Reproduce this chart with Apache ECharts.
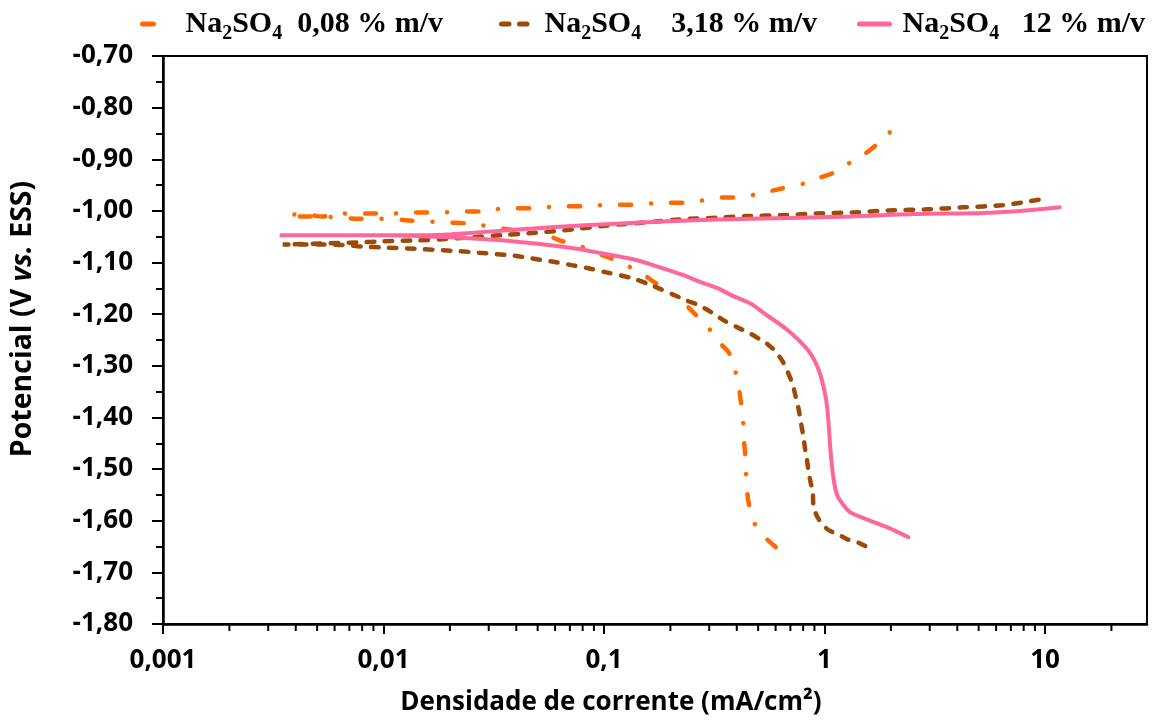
<!DOCTYPE html>
<html>
<head>
<meta charset="utf-8">
<script src="https://cdn.jsdelivr.net/npm/echarts@6/dist/echarts.min.js"></script>
<style>
  html, body { margin: 0; padding: 0; background: #fff; }
  #chart { width: 1156px; height: 722px; }
</style>
</head>
<body>
<div id="chart"></div>
<script>
// legend concentration labels
const concLabels = ["0,08", "3,18", "12"];
const concSpaces = ["  ", "    ", "   "];
const seriesNames = ["Na2SO4 0,08", "Na2SO4 3,18", "Na2SO4 12"];
const seriesColors = ["#ff6a00", "#9c4a08", "#ff6699"];

// [current density mA/cm2, potential V] - cathodic branch then anodic branch
const cath008 = [
  [0.601, -1.651], [0.531, -1.63], [0.478, -1.603], [0.454, -1.568], [0.445, -1.539],
  [0.44, -1.507], [0.436, -1.468], [0.431, -1.443], [0.427, -1.406], [0.418, -1.372],
  [0.409, -1.343], [0.393, -1.308], [0.369, -1.275], [0.332, -1.254], [0.296, -1.225],
  [0.256, -1.198], [0.231, -1.179], [0.197, -1.157], [0.169, -1.138], [0.148, -1.121],
  [0.126, -1.105], [0.105, -1.09], [0.0905, -1.08], [0.0766, -1.067], [0.0629, -1.057],
  [0.0549, -1.047], [0.0374, -1.036], [0.032, -1.032], [0.0265, -1.026], [0.0239, -1.024],
  [0.0188, -1.022], [0.0154, -1.02], [0.0125, -1.018], [0.011, -1.015], [0.009, -1.015],
  [0.00737, -1.015], [0.00637, -1.013], [0.00518, -1.011], [0.00429, -1.011], [0.00367, -1.009]
];
const anod008 = [
  [0.00367, -1.007], [0.00443, -1.007], [0.00528, -1.011], [0.00637, -1.005], [0.00908, -1.005],
  [0.011, -1.005], [0.0132, -1.003], [0.0154, -1.003], [0.0188, -1.003], [0.0227, -1.001],
  [0.0288, -1.001], [0.032, -0.997], [0.039, -0.995], [0.0505, -0.995], [0.0549, -0.993],
  [0.0662, -0.991], [0.085, -0.991], [0.0943, -0.989], [0.116, -0.988], [0.148, -0.988],
  [0.162, -0.986], [0.195, -0.984], [0.229, -0.984], [0.278, -0.98], [0.339, -0.974],
  [0.388, -0.974], [0.5, -0.967], [0.633, -0.957], [0.805, -0.947], [0.96, -0.935],
  [1.1, -0.926], [1.31, -0.906], [1.55, -0.887], [1.74, -0.87], [2.01, -0.845]
];

const cath318 = [
  [1.53, -1.649], [1.38, -1.64], [1.27, -1.636], [1.15, -1.626], [1.033, -1.617],
  [0.941, -1.597], [0.893, -1.574], [0.884, -1.543], [0.865, -1.526], [0.848, -1.507],
  [0.83, -1.478], [0.821, -1.468], [0.805, -1.443], [0.796, -1.429], [0.78, -1.408],
  [0.764, -1.385], [0.74, -1.36], [0.718, -1.337], [0.681, -1.312], [0.647, -1.292],
  [0.601, -1.273], [0.559, -1.26], [0.515, -1.25], [0.454, -1.236], [0.409, -1.227],
  [0.346, -1.211], [0.306, -1.196], [0.267, -1.182], [0.241, -1.175], [0.224, -1.169],
  [0.164, -1.144], [0.133, -1.13], [0.1025, -1.119], [0.085, -1.111], [0.0713, -1.105],
  [0.0579, -1.098], [0.047, -1.092], [0.0394, -1.087], [0.0271, -1.081], [0.022, -1.078],
  [0.015, -1.074], [0.0102, -1.071], [0.00801, -1.069], [0.00651, -1.066], [0.00528, -1.065],
  [0.00429, -1.065], [0.00349, -1.065]
];
const anod318 = [
  [0.00349, -1.065], [0.00528, -1.063], [0.00761, -1.061], [0.00987, -1.059], [0.0139, -1.057],
  [0.0184, -1.055], [0.0252, -1.051], [0.0344, -1.047], [0.047, -1.043], [0.0713, -1.036],
  [0.105, -1.028], [0.157, -1.022], [0.231, -1.016], [0.339, -1.013], [0.44, -1.01],
  [0.667, -1.008], [0.921, -1.005], [1.35, -1.003], [1.97, -0.999], [2.89, -0.997],
  [4.3, -0.993], [6.38, -0.989], [7.78, -0.984], [9.47, -0.978]
];

const cath12 = [
  [2.4, -1.632], [1.93, -1.613], [1.46, -1.593], [1.31, -1.584], [1.21, -1.568],
  [1.14, -1.55], [1.1, -1.52], [1.066, -1.468], [1.04, -1.404], [1.012, -1.36],
  [0.941, -1.308], [0.839, -1.269], [0.681, -1.231], [0.531, -1.198], [0.464, -1.18],
  [0.377, -1.163], [0.329, -1.15], [0.267, -1.136], [0.231, -1.125], [0.164, -1.104],
  [0.137, -1.094], [0.0973, -1.082], [0.069, -1.071], [0.0344, -1.057], [0.0204, -1.051],
  [0.015, -1.049], [0.0102, -1.047], [0.00587, -1.047], [0.00338, -1.047]
];
const anod12 = [
  [0.00338, -1.047], [0.00587, -1.047], [0.0102, -1.047], [0.015, -1.047], [0.0204, -1.045],
  [0.041, -1.036], [0.0816, -1.028], [0.195, -1.02], [0.464, -1.015], [1.31, -1.011],
  [2.53, -1.006], [5.24, -1.004], [7.15, -1.001], [9.47, -0.997], [11.67, -0.993]
];

// minor tick positions on the log axis
const xMinorTicks = [
  0.002, 0.003, 0.004, 0.005, 0.006, 0.007, 0.008, 0.009,
  0.02, 0.03, 0.04, 0.05, 0.06, 0.07, 0.08, 0.09,
  0.2, 0.3, 0.4, 0.5, 0.6, 0.7, 0.8, 0.9,
  2, 3, 4, 5, 6, 7, 8, 9, 20
];

const yMin = -1.8;
const yMax = -0.7;

const chart = echarts.init(document.getElementById("chart"));

const labelFont = {
  fontFamily: "Open Sans",
  fontWeight: "bold",
  fontSize: 26,
  color: "#000",
};
const yNameFont = { ...labelFont, fontSize: 28.5 };

const serif = { fontFamily: "Liberation Serif", fontWeight: "bold", color: "#000", lineHeight: 40 };
const legendRich = {
  n: { ...serif, fontSize: 30 },
  s: { ...serif, fontSize: 20, verticalAlign: "bottom" },
  p: { ...serif, fontSize: 30, padding: [0, 0, 0, 8] },
};

const lineTypes = [
  { type: [11, 20, 0.1, 20], cap: "round", width: 4.5 },
  { type: [7.5, 10.5], cap: "round", width: 4.5 },
  { type: "solid", cap: "round", width: 4 },
];

const legendLeft = [135, 494, 852];
const legends = seriesNames.map((name, i) => ({
  data: [name],
  left: legendLeft[i],
  top: 4,
  itemWidth: 30,
  itemHeight: 14,
  itemStyle: { opacity: 0 },
  lineStyle: { ...lineTypes[i], color: seriesColors[i], width: 5 },
  formatter: () => `{p|Na}{s|2}{n|SO}{s|4}{n|${concSpaces[i]}${concLabels[i]} % m/v}`,
  textStyle: { rich: legendRich },
}));

const seriesData = [
  cath008.concat(anod008),
  cath318.concat(anod318),
  cath12.concat(anod12),
];

chart.setOption({
  animation: false,
  legend: legends,
  grid: {
    left: 161,
    right: 9,
    top: 56,
    bottom: 98,
    show: true,
    borderColor: "#000",
    borderWidth: 2,
  },
  xAxis: {
    type: "log",
    logBase: 10,
    min: 0.001,
    max: 29,
    name: "Densidade de corrente (mA/cm²)",
    nameLocation: "middle",
    nameGap: 66,
    nameTextStyle: { ...labelFont, padding: [0, 88, 0, 0] },
    axisLine: { lineStyle: { color: "#000", width: 2.5 } },
    axisTick: { length: 10, lineStyle: { color: "#000", width: 2 } },
    splitLine: { show: false },
    axisLabel: {
      ...labelFont,
      margin: 24,
      showMaxLabel: false,
      formatter: (v) => {
        const l = Math.log10(v);
        const r = Math.round(l);
        if (Math.abs(l - r) > 1e-6) return "";
        return r < 0 ? Math.pow(10, r).toFixed(-r).replace(".", ",") : String(Math.pow(10, r));
      },
    },
  },
  yAxis: {
    type: "value",
    min: yMin,
    max: yMax,
    interval: 0.1,
    name: "{a|Potencial (V }{i|vs.}{a| ESS)}",
    nameLocation: "middle",
    nameGap: 126,
    nameTextStyle: {
      padding: [0, 0, 0, 42],
      rich: {
        a: yNameFont,
        i: { ...yNameFont, fontStyle: "italic" },
      },
    },
    axisLine: { show: true, lineStyle: { color: "#000", width: 2.5 } },
    axisTick: { show: true, length: 11, lineStyle: { color: "#000", width: 2 } },
    minorTick: { show: true, splitNumber: 2, length: 7, lineStyle: { color: "#000", width: 2 } },
    splitLine: { show: false },
    axisLabel: {
      ...labelFont,
      margin: 30,
      formatter: (v) => v.toFixed(2).replace(".", ","),
    },
  },
  series: seriesNames.map((name, i) => ({
    name: name,
    type: "line",
    showSymbol: false,
    symbol: "none",
    smooth: 0.3,
    data: seriesData[i],
    color: seriesColors[i],
    lineStyle: { color: seriesColors[i], ...lineTypes[i] },
    z: 3 + i,
  })).concat([{
    type: "custom",
    silent: true,
    clip: false,
    z: 10,
    data: xMinorTicks.map((v) => [v, yMin]),
    renderItem: (params, api) => {
      const p = api.coord([api.value(0), api.value(1)]);
      return {
        type: "line",
        shape: { x1: p[0], y1: p[1], x2: p[0], y2: p[1] + 7 },
        style: { stroke: "#000", lineWidth: 2 },
      };
    },
  }]),
});
</script>
</body>
</html>
